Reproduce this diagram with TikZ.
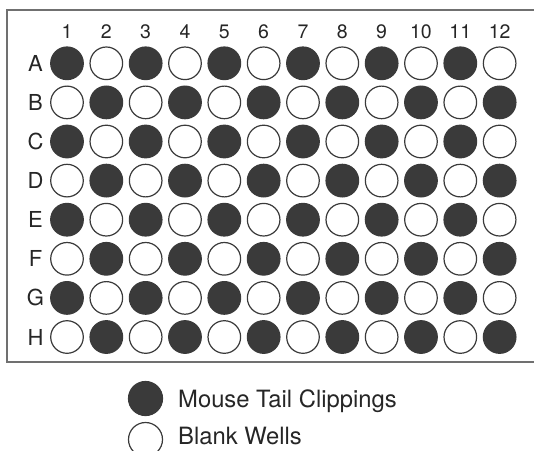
\documentclass[tikz,border=0pt]{standalone}
\usepackage{fontspec}
\setmainfont{TeX Gyre Heros}
\definecolor{ink}{HTML}{3A3A3A}
\definecolor{frame}{HTML}{707070}
\definecolor{txt}{HTML}{262626}
\begin{document}
\begin{tikzpicture}[x=1pt,y=-1pt,
  well/.style={circle,draw=ink,line width=1.2pt,minimum size=32.6pt,inner sep=0pt},
  full/.style={well,fill=ink},
  empty/.style={well,fill=white},
  legwell/.style={minimum size=34pt},
  collab/.style={font=\fontsize{19.5}{19.5}\selectfont,text=txt,inner sep=0pt},
  rowlab/.style={font=\fontsize{22}{22}\selectfont,text=txt,inner sep=0pt},
  legtext/.style={font=\fontsize{23.8}{23.8}\selectfont,text=txt,anchor=base west,inner sep=0pt}]
\useasboundingbox (0,0) rectangle (534,450);
\clip (0,0) rectangle (534,450);
\draw[frame,line width=1.8pt] (545,10) -- (7,10) -- (7,362) -- (545,362);
\foreach \c in {1,...,12}
  \node[collab] (col\c) at ({67+(\c-1)*39.33},31.5) {\c};
\foreach \l [count=\r] in {A,B,C,D,E,F,G,H}
  \node[rowlab] (row\l) at (35.5,{63.3+(\r-1)*39.1}) {\l};
\foreach \r in {1,...,8}
  \foreach \c in {1,...,12}{
    \pgfmathtruncatemacro\wpar{mod(\r+\c,2)}
    \ifnum\wpar=0
      \node[full] (w\r-\c) at ({67+(\c-1)*39.33},{63.3+(\r-1)*39.1}) {};
    \else
      \node[empty] (w\r-\c) at ({67+(\c-1)*39.33},{63.3+(\r-1)*39.1}) {};
    \fi
  }
\node[full,legwell] (legfull) at (145.5,398.5) {};
\node[empty,legwell] (legempty) at (145.5,439.5) {};
\node[legtext] (legfulltext) at (178,407.3) {Mouse Tail Clippings};
\node[legtext] (legemptytext) at (178,444.5) {Blank Wells};
\end{tikzpicture}
\end{document}
